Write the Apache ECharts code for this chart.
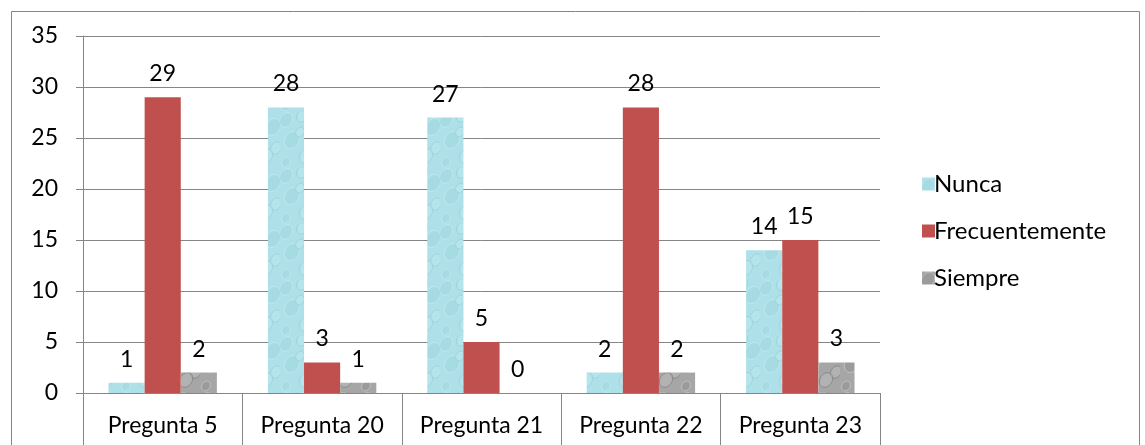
<!DOCTYPE html>
<html><head><meta charset="utf-8">
<script src="https://cdn.jsdelivr.net/npm/echarts@6/dist/echarts.min.js"></script>
<style>html,body{margin:0;padding:0;background:#fff}#c{width:1145px;height:445px}</style>
</head><body><div id="c"></div>
<script>
const categories = ['Pregunta 5','Pregunta 20','Pregunta 21','Pregunta 22','Pregunta 23'];
const seriesNames = ['Nunca','Frecuentemente','Siempre'];
const nunca = [1, 28, 27, 2, 14];
const frecuentemente = [29, 3, 5, 28, 15];
const siempre = [2, 1, 0, 2, 3];
const yTicks = {min: 0, max: 35, interval: 5};

function makeTexture(base, spot, light) {
  const cv = document.createElement('canvas');
  cv.width = 40; cv.height = 56;
  const g = cv.getContext('2d');
  g.fillStyle = base; g.fillRect(0, 0, 40, 56);
  const pts = [[6,8,6],[22,4,5],[33,15,7],[36,36,5],[12,28,7],[26,44,6],[6,50,4],[20,20,4]];
  pts.forEach(([x,y,r], i) => {
    g.beginPath(); g.ellipse(x, y, r, r * 1.3, 0.6, 0, Math.PI*2);
    g.lineWidth = 1;
    g.strokeStyle = i % 2 ? spot : light; g.stroke();
    g.fillStyle = i % 2 ? light : spot; g.globalAlpha = 0.3; g.fill(); g.globalAlpha = 1;
  });
  return cv;
}
const texNunca = makeTexture('#aee0e9', '#97d0da', '#c6edf2');
const texSiempre = makeTexture('#a6a6a6', '#808080', '#cccccc');

const font = 'Lato, "Open Sans", sans-serif';
const labelCfg = {show: true, position: 'top', distance: 12, color: '#000', fontSize: 23, fontFamily: font};

const chart = echarts.init(document.getElementById('c'), null, {renderer: 'canvas'});
chart.setOption({
  animation: false,
  backgroundColor: '#fff',
  graphic: [{type: 'rect', shape: {x: 11.5, y: 11.5, width: 1128, height: 460}, style: {fill: 'none', stroke: '#868686', lineWidth: 1}, silent: true}],
  grid: {left: 83, right: 265, top: 36, bottom: 52, containLabel: false},
  legend: {
    orient: 'vertical', left: 917, top: 165, itemGap: 19, itemWidth: 13, itemHeight: 13,
    icon: 'rect',
    textStyle: {fontSize: 24, lineHeight: 28, fontFamily: font, color: '#000', padding: [0,0,0,-6]},
    data: seriesNames
  },
  xAxis: {
    type: 'category', data: categories,
    axisLine: {lineStyle: {color: '#868686'}},
    axisTick: {show: true, interval: 0, length: 60, lineStyle: {color: '#868686'}},
    axisLabel: {interval: 0, fontSize: 23, fontFamily: font, color: '#000', margin: 21}
  },
  yAxis: {
    type: 'value', min: yTicks.min, max: yTicks.max, interval: yTicks.interval,
    axisLine: {show: true, lineStyle: {color: '#868686'}},
    axisTick: {show: true, length: 7, lineStyle: {color: '#868686'}},
    splitLine: {lineStyle: {color: '#868686'}},
    axisLabel: {fontSize: 23, fontFamily: font, color: '#000', margin: 25}
  },
  series: [
    {name: seriesNames[0], type: 'bar', data: nunca, barGap: '0%', barCategoryGap: '32%',
     itemStyle: {color: {image: texNunca, repeat: 'repeat'}}, label: labelCfg},
    {name: seriesNames[1], type: 'bar', data: frecuentemente,
     itemStyle: {color: '#c0504d'}, label: labelCfg},
    {name: seriesNames[2], type: 'bar', data: siempre,
     itemStyle: {color: {image: texSiempre, repeat: 'repeat'}}, label: labelCfg}
  ]
});
</script></body></html>
